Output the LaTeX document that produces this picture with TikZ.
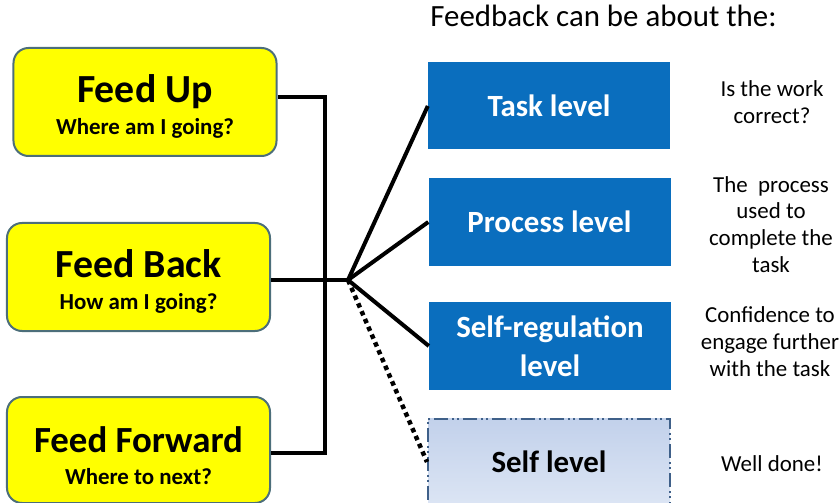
\documentclass[tikz,border=0pt]{standalone}
\usepackage{fontspec}
\setmainfont{Carlito}
\usetikzlibrary{positioning}
\definecolor{fbyellow}{HTML}{FFFF00}
\definecolor{fbedge}{HTML}{4C6E7A}
\definecolor{lvlblue}{HTML}{0A6EBE}
\definecolor{selfedge}{HTML}{3F6089}
\definecolor{selftop}{HTML}{C2D1EB}
\definecolor{selfbot}{HTML}{DCE5F4}
\tikzset{feedbox/.style={draw=fbedge, line width=2bp, fill=fbyellow, rounded corners=15bp,
    minimum width=263bp, minimum height=108bp, align=center, inner sep=0pt,
    font=\fontsize{23}{32}\selectfont\bfseries},
  levelbox/.style={fill=lvlblue, text=white, minimum width=242bp, minimum height=87bp,
    align=center, inner sep=0pt, font=\fontsize{31}{39}\selectfont\bfseries},
  conn/.style={line width=4bp},
  note/.style={align=center, font=\fontsize{23}{27}\selectfont}}
\newcommand{\feedtxt}[3][40]{{\fontsize{#1}{32}\selectfont\rule{0pt}{37bp}#2}\\#3}

\begin{document}
\begin{tikzpicture}[x=1bp, y=-1bp]
  \useasboundingbox (0,0) rectangle (840,503);
  % left column
  \node[feedbox] (fup) at (145,102) {\feedtxt{Feed Up}{Where am I going?}};
  \node[feedbox] (fback) at (138.5,277) {\feedtxt{Feed Back}{How am I going?}};
  \node[feedbox, minimum height=106bp] (ffwd) at (138.5,450) {\feedtxt[37]{Feed Forward}{Where to next?}};
  % levels
  \node[font=\fontsize{31}{36}\selectfont] (head) at (603.5,16) {Feedback can be about the:};
  \node[levelbox] (task) at (549,106) {Task level};
  \node[levelbox] (proc) at (549.5,222) {Process level};
  \node[levelbox] (sreg) at (550,346) {Self-regulation\\level};
  \node[levelbox, fill=none, text=black, draw=selfedge, line width=2bp,
    top color=selftop, bottom color=selfbot,
    dash pattern=on 14bp off 4bp on 2bp off 3bp on 2bp off 4bp] (self) at (549,462) {Self level};
  % notes
  \node[note] (ntask) at (772,102) {Is the work\\correct?};
  \node[note] (nproc) at (771,224.5) {The\ \ process\\used to\\complete the\\task};
  \node[note] (nsreg) at (770,342) {Confidence to\\engage further\\with the task};
  \node[note] (nself) at (772,464) {Well done!};
  % connectors
  \coordinate (hub) at (348,280);
  \draw[conn] ([yshift=5bp]fup.east) -| (325,453) -- (ffwd.east |- 0,453);
  \draw[conn] (fback.east |- hub) -- (hub);
  \draw[conn] (hub) -- (task.west);
  \draw[conn] (hub) -- (proc.west);
  \draw[conn] (hub) -- (sreg.west);
  \draw[conn, line width=4.5bp, dash pattern=on 4.5bp off 4bp] (hub) -- (self.west);
\end{tikzpicture}
\end{document}
